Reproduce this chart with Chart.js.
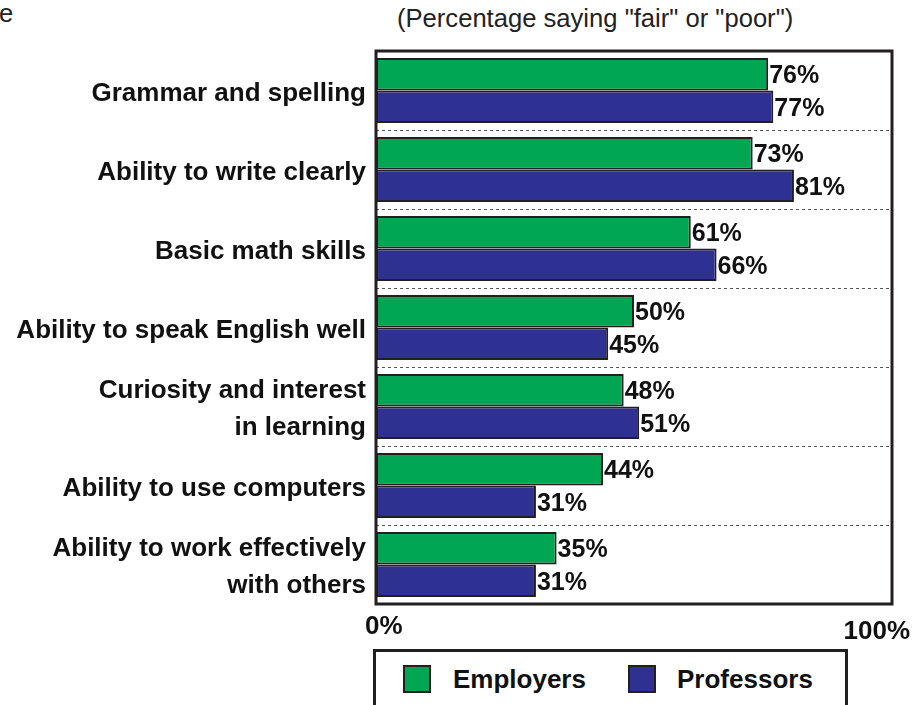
<!DOCTYPE html>
<html>
<head>
<meta charset="utf-8">
<script src="https://cdn.jsdelivr.net/npm/chart.js@4.4.1/dist/chart.umd.min.js"></script>
<style>
  html, body { margin: 0; padding: 0; background: #fff; overflow: hidden; width: 915px; height: 705px; }
  body { position: relative; font-family: "Liberation Sans", Arial, sans-serif; color: #111; }
  #c { position: absolute; left: 0; top: 0; }
  .txt { position: absolute; white-space: nowrap; font-size: 25.6px; line-height: 30px; color: #222; }
  #legend { position: absolute; left: 373px; top: 649px; width: 475px; height: 90px; border: 3px solid #231f20; box-sizing: border-box; background: #fff; }
  .sw { position: absolute; width: 28px; height: 28px; border: 2px solid #231f20; box-sizing: border-box; top: 13px; }
  .lt { position: absolute; top: 10px; font-weight: bold; font-size: 26px; line-height: 34px; color: #111; }
</style>
</head>
<body>
<div class="txt" style="left:-1px; top:-2px;">e</div>
<div class="txt" style="left:397px; top:3px;">(Percentage saying "fair" or "poor")</div>
<canvas id="c" width="915" height="705"></canvas>
<div id="legend">
  <div class="sw" id="sw0" style="left:27px;"></div>
  <div class="lt" id="lt0" style="left:77px;"></div>
  <div class="sw" id="sw1" style="left:252px;"></div>
  <div class="lt" id="lt1" style="left:301px;"></div>
</div>
<script>
const categories = [
  'Grammar and spelling',
  'Ability to write clearly',
  'Basic math skills',
  'Ability to speak English well',
  ['Curiosity and interest', 'in learning'],
  'Ability to use computers',
  ['Ability to work effectively', 'with others']
];
const seriesNames = ['Employers', 'Professors'];
const employers = [76, 73, 61, 50, 48, 44, 35];
const professors = [77, 81, 66, 45, 51, 31, 31];
const xTickValues = [0, 100];
const xTickLabels = ['0%', '100%'];

const colors = ['#00a651', '#2e3192'];
const edge = '#231f20';
const FONT = '"Liberation Sans", Arial, sans-serif';

document.getElementById('sw0').style.background = colors[0];
document.getElementById('sw1').style.background = colors[1];
document.getElementById('lt0').textContent = seriesNames[0];
document.getElementById('lt1').textContent = seriesNames[1];

const decorPlugin = {
  id: 'decor',
  afterDatasetsDraw(chart) {
    const { ctx, chartArea: a } = chart;
    const xs = chart.scales.x;
    ctx.save();
    // frame
    ctx.strokeStyle = edge;
    ctx.lineWidth = 3;
    ctx.strokeRect(a.left, a.top, a.right - a.left, a.bottom - a.top);
    // value labels
    ctx.font = 'bold 25px ' + FONT;
    ctx.textAlign = 'left';
    ctx.textBaseline = 'middle';
    ctx.fillStyle = '#111';
    chart.data.datasets.forEach((ds, i) => {
      chart.getDatasetMeta(i).data.forEach((el, j) => {
        ctx.fillText(ds.data[j] + '%', el.x + 1, el.y + 2);
      });
    });
    // x tick labels (0% and 100%)
    ctx.font = 'bold 26px ' + FONT;
    ctx.textBaseline = 'alphabetic';
    xTickValues.forEach((v, k) => {
      const px = xs.getPixelForValue(v);
      if (k === 0) {
        ctx.textAlign = 'left';
        ctx.fillText(xTickLabels[k], px - 11, a.bottom + 30);
      } else {
        ctx.textAlign = 'right';
        ctx.fillText(xTickLabels[k], px + 18, a.bottom + 35);
      }
    });
    ctx.restore();
  }
};

new Chart(document.getElementById('c'), {
  type: 'bar',
  data: {
    labels: categories,
    datasets: [
      { label: seriesNames[0], data: employers, backgroundColor: colors[0] },
      { label: seriesNames[1], data: professors, backgroundColor: colors[1] }
    ]
  },
  options: {
    indexAxis: 'y',
    responsive: false,
    devicePixelRatio: 1,
    animation: false,
    layout: { padding: { top: 51, right: 23, bottom: 101, left: 0 } },
    datasets: {
      bar: {
        borderColor: edge,
        borderWidth: 2,
        borderSkipped: false,
        barPercentage: 1.0,
        categoryPercentage: 0.823
      }
    },
    plugins: {
      legend: { display: false },
      tooltip: { enabled: false },
      title: { display: false }
    },
    scales: {
      x: {
        type: 'linear',
        min: 0,
        max: 100,
        display: false
      },
      y: {
        type: 'category',
        afterFit(s) { s.width = 376; },
        grid: {
          display: true,
          offset: true,
          drawTicks: false,
          color: '#555',
          lineWidth: 1
        },
        border: { display: false, dash: [3, 3] },
        ticks: {
          padding: 10,
          labelOffset: 3,
          color: '#111',
          font: { family: FONT, size: 26, weight: 'bold', lineHeight: 1.42 }
        }
      }
    }
  },
  plugins: [decorPlugin]
});
</script>
</body>
</html>
